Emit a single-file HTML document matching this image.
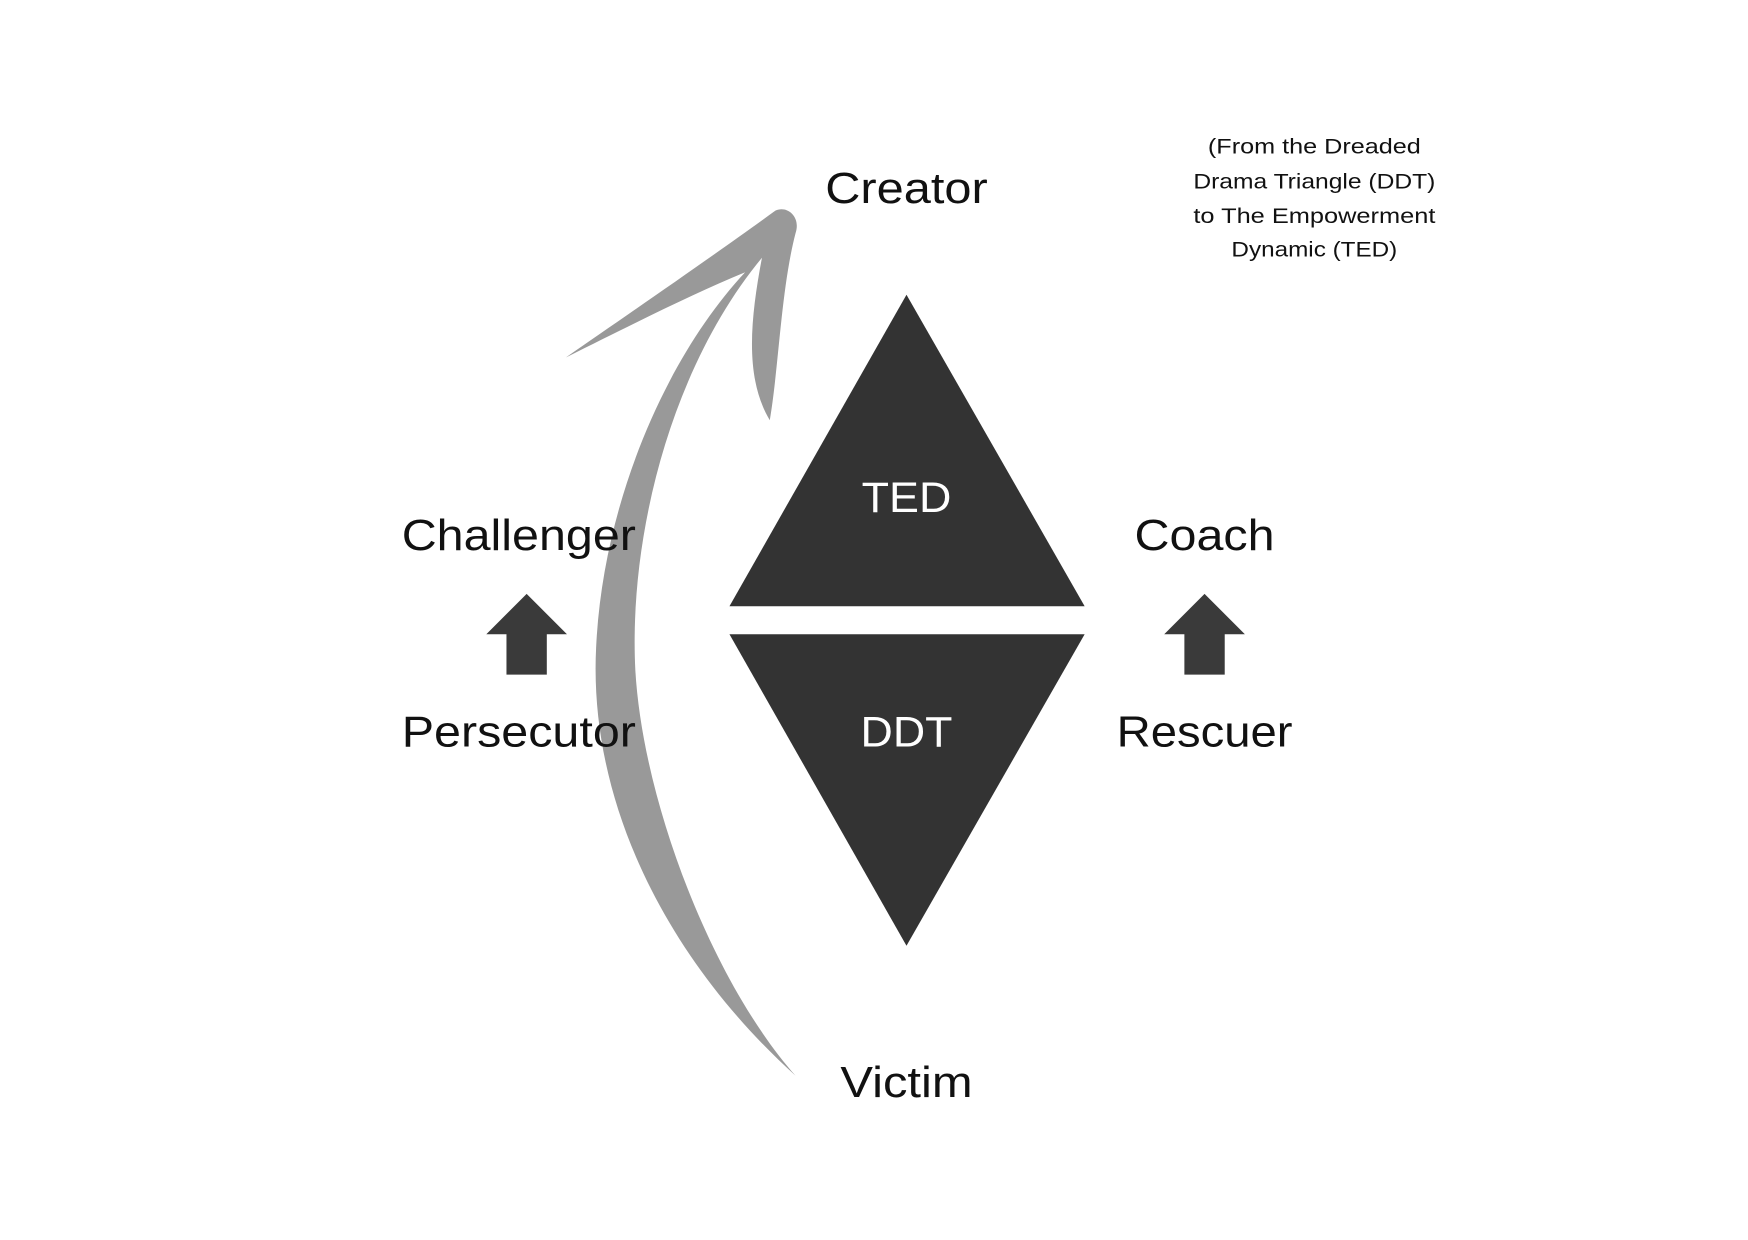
<!DOCTYPE html>
<html><head><meta charset="utf-8"><style>
html,body{margin:0;padding:0;background:#fff;}
svg{display:block;}
text{font-family:"Liberation Sans",sans-serif;}
</style></head><body>
<svg width="1748" height="1240" viewBox="0 0 1560 1106.6" xmlns="http://www.w3.org/2000/svg">
<rect width="1560" height="1106.6" fill="#fff"/>
<g transform="translate(-3,-2)">
<path d="M713,962 C640,880 577,720 570,600 C564,480 602,330 683,232 C672,290 668,340 690,377 C698,330 700,260 713,210 C718,195 705,185 695,190 C640,230 560,285 508,321 C570,290 620,265 668,245 C598,320 541,450 535,580 C528,720 600,860 713,962 Z" fill="#999"/>
<polygon points="812,265 971,543 654,543" fill="#333"/>
<polygon points="654,568 971,568 812,846" fill="#333"/>
<text x="812" y="459" font-size="38" fill="#fff" text-anchor="middle" textLength="80" lengthAdjust="spacingAndGlyphs">TED</text>
<text x="812" y="668" font-size="38" fill="#fff" text-anchor="middle" textLength="82" lengthAdjust="spacingAndGlyphs">DDT</text>
<text x="812" y="183" font-size="39" fill="#111" text-anchor="middle" textLength="145" lengthAdjust="spacingAndGlyphs">Creator</text>
<text x="812" y="981" font-size="39" fill="#111" text-anchor="middle" textLength="118" lengthAdjust="spacingAndGlyphs">Victim</text>
<text x="466" y="493" font-size="39" fill="#111" text-anchor="middle" textLength="209" lengthAdjust="spacingAndGlyphs">Challenger</text>
<text x="466" y="668" font-size="39" fill="#111" text-anchor="middle" textLength="209" lengthAdjust="spacingAndGlyphs">Persecutor</text>
<text x="1078" y="493" font-size="39" fill="#111" text-anchor="middle" textLength="125" lengthAdjust="spacingAndGlyphs">Coach</text>
<text x="1078" y="668" font-size="39" fill="#111" text-anchor="middle" textLength="157" lengthAdjust="spacingAndGlyphs">Rescuer</text>
<polygon points="473,532 509,568 491,568 491,604 455,604 455,568 437,568" fill="#3a3a3a"/>
<polygon points="1078,532 1114,568 1096,568 1096,604 1060,604 1060,568 1042,568" fill="#3a3a3a"/>
<g font-size="19" fill="#111" text-anchor="middle">
<text x="1176" y="139" textLength="190" lengthAdjust="spacingAndGlyphs">(From the Dreaded</text>
<text x="1176" y="170" textLength="216" lengthAdjust="spacingAndGlyphs">Drama Triangle (DDT)</text>
<text x="1176" y="201" textLength="216" lengthAdjust="spacingAndGlyphs">to The Empowerment</text>
<text x="1176" y="231" textLength="148" lengthAdjust="spacingAndGlyphs">Dynamic (TED)</text>
</g>
</g>
</svg>
</body></html>
